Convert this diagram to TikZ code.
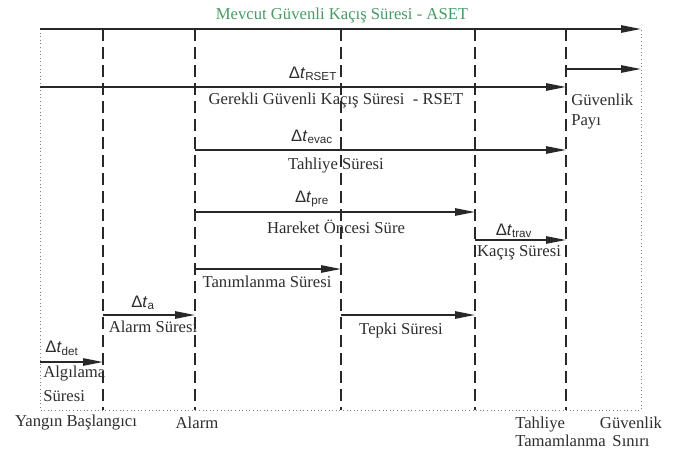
\documentclass[tikz,border=0pt]{standalone}
\usepackage{fontspec}
\setmainfont{Liberation Serif}
\newfontfamily\dtfont{Liberation Sans}
\usetikzlibrary{arrows.meta}

\definecolor{linegray}{RGB}{40,40,40}
\definecolor{txtgray}{RGB}{45,45,45}
\definecolor{asetgreen}{RGB}{70,155,100}

% time interval symbol
\newcommand{\dtlbl}[1]{{\dtfont Δ\textit{t}\textsubscript{#1}}}

\begin{document}
\begin{tikzpicture}[
    x=0.75pt, y=-0.75pt,
    >={Triangle[length=15pt,width=5.5pt]},
    span/.style={->, line width=1.2pt, draw=linegray},
    event/.style={dash pattern=on 9pt off 4.5pt, line width=1pt, draw=linegray},
    frame/.style={dotted, line width=0.7pt, draw=gray},
    lbl/.style={font=\fontsize{12.5}{14}\selectfont, text=txtgray, inner sep=0pt},
    dlbl/.style={lbl, font=\fontsize{12.5}{14}\selectfont\dtfont}
  ]
    \useasboundingbox (0,0) rectangle (675,457);

    % events on the time axis
    \coordinate (fire) at (40,29);
    \coordinate (det) at (103,29);
    \coordinate (alarm) at (195,29);
    \coordinate (recog) at (341,29);
    \coordinate (move) at (475,29);
    \coordinate (done) at (566,29);
    \coordinate (limit) at (641,29);
    \coordinate (bot) at (0,410);

    % levels of the intervals
    \coordinate (ymargin) at (0,69);
    \coordinate (yrset) at (0,87);
    \coordinate (yevac) at (0,150);
    \coordinate (ypre) at (0,212);
    \coordinate (ytrav) at (0,240);
    \coordinate (yrecog) at (0,269);
    \coordinate (yalarm) at (0,315);
    \coordinate (ydet) at (0,362);

    \draw[frame] (fire) -- (fire |- bot) -- (limit |- bot) -- (limit);
    \foreach \e in {det,alarm,recog,move}
      \draw[event] (\e) -- (\e |- bot);
    \draw[event, line width=1.6pt] (done) -- (done |- bot);

    \draw[span] (fire) -- (limit);
    \draw[span] (done |- ymargin) -- (limit |- ymargin);
    \draw[span] (fire |- yrset) -- (done |- yrset);
    \draw[span] (alarm |- yevac) -- (done |- yevac);
    \draw[span] (alarm |- ypre) -- (move |- ypre);
    \draw[span] (move |- ytrav) -- (done |- ytrav);
    \draw[span] (alarm |- yrecog) -- (recog |- yrecog);
    \draw[span] (det |- yalarm) -- (alarm |- yalarm);
    \draw[span] (recog |- yalarm) -- (move |- yalarm);
    \draw[span] (fire |- ydet) -- (det |- ydet);

    \node[lbl, text=asetgreen] (asetlbl) at (342,15) {Mevcut Güvenli Kaçış Süresi - ASET};
    \node[dlbl] (drset) at (313,74) {\dtlbl{RSET}};
    \node[lbl] (rsetlbl) at (336,100) {Gerekli Güvenli Kaçış Süresi\ \ - RSET};
    \node[lbl, align=left, anchor=west, font=\fontsize{12.5}{15}\selectfont] (marginlbl) at (571,112) {Güvenlik\\Payı};
    \node[dlbl] (devac) at (312,137) {\dtlbl{evac}};
    \node[lbl] (evaclbl) at (336,166) {Tahliye Süresi};
    \node[dlbl] (dpre) at (312,199) {\dtlbl{pre}};
    \node[lbl] (prelbl) at (336,227) {Hareket Öncesi Süre};
    \node[dlbl] (dtrav) at (514,231) {\dtlbl{trav}};
    \node[lbl] (travlbl) at (519,253) {Kaçış Süresi};
    \node[lbl] (recoglbl) at (267,282) {Tanımlanma Süresi};
    \node[dlbl] (dalarm) at (143,303) {\dtlbl{a}};
    \node[lbl] (alarmlbl) at (153,327) {Alarm Süresi};
    \node[lbl] (resplbl) at (401,330) {Tepki Süresi};
    \node[dlbl] (ddet) at (62,348) {\dtlbl{det}};
    \node[lbl, align=left, anchor=west, font=\fontsize{12.5}{18}\selectfont] (detlbl) at (43,384) {Algılama\\Süresi};

    \node[lbl] (firelbl) at (76,423) {Yangın Başlangıcı};
    \node[lbl] (alarmev) at (197,423) {Alarm};
    \node[lbl, align=left, anchor=west, font=\fontsize{12.5}{13.5}\selectfont] (donelbl) at (515,432) {Tahliye\\Tamamlanma};
    \node[lbl, align=center, font=\fontsize{12.5}{13.5}\selectfont] (limitlbl) at (631,432) {Güvenlik\\Sınırı};
  \end{tikzpicture}
\end{document}
